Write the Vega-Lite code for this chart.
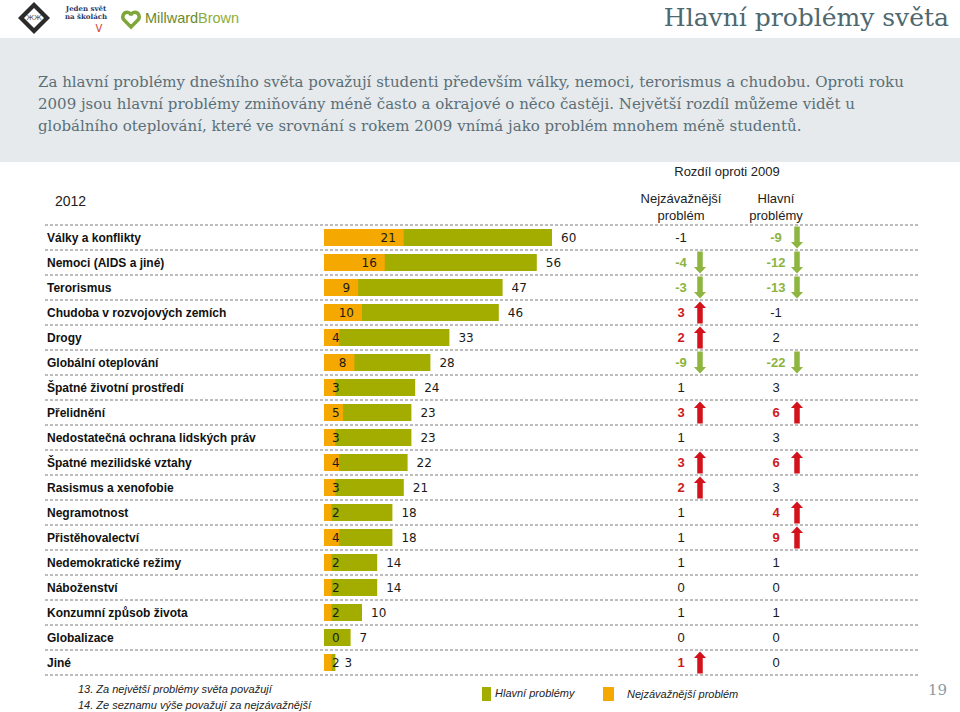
{
  "$schema": "https://vega.github.io/schema/vega-lite/v6.json",
  "width": 960,
  "height": 712,
  "autosize": {"type": "fit", "contains": "padding"},
  "padding": 0,
  "background": "white",
  "config": {"view": {"stroke": null}},
  "resolve": {"scale": {"x": "independent", "color": "independent", "shape": "independent"}},
  "datasets": {
    "one": [{}],
    "bars": [
      {"label": "Války a konflikty", "main": 60, "top": 21},
      {"label": "Nemoci (AIDS a jiné)", "main": 56, "top": 16},
      {"label": "Terorismus", "main": 47, "top": 9},
      {"label": "Chudoba v rozvojových zemích", "main": 46, "top": 10},
      {"label": "Drogy", "main": 33, "top": 4},
      {"label": "Globální oteplování", "main": 28, "top": 8},
      {"label": "Špatné životní prostředí", "main": 24, "top": 3},
      {"label": "Přelidnění", "main": 23, "top": 5},
      {"label": "Nedostatečná ochrana lidských práv", "main": 23, "top": 3},
      {"label": "Špatné mezilidské vztahy", "main": 22, "top": 4},
      {"label": "Rasismus a xenofobie", "main": 21, "top": 3},
      {"label": "Negramotnost", "main": 18, "top": 2},
      {"label": "Přistěhovalectví", "main": 18, "top": 4},
      {"label": "Nedemokratické režimy", "main": 14, "top": 2},
      {"label": "Náboženství", "main": 14, "top": 2},
      {"label": "Konzumní způsob života", "main": 10, "top": 2},
      {"label": "Globalizace", "main": 7, "top": 0},
      {"label": "Jiné", "main": 3, "top": 2}
    ],
    "changes": [
      {"label": "Války a konflikty", "col": "nz", "change": -1, "dir": "none"},
      {"label": "Války a konflikty", "col": "hp", "change": -9, "dir": "down"},
      {"label": "Nemoci (AIDS a jiné)", "col": "nz", "change": -4, "dir": "down"},
      {"label": "Nemoci (AIDS a jiné)", "col": "hp", "change": -12, "dir": "down"},
      {"label": "Terorismus", "col": "nz", "change": -3, "dir": "down"},
      {"label": "Terorismus", "col": "hp", "change": -13, "dir": "down"},
      {"label": "Chudoba v rozvojových zemích", "col": "nz", "change": 3, "dir": "up"},
      {"label": "Chudoba v rozvojových zemích", "col": "hp", "change": -1, "dir": "none"},
      {"label": "Drogy", "col": "nz", "change": 2, "dir": "up"},
      {"label": "Drogy", "col": "hp", "change": 2, "dir": "none"},
      {"label": "Globální oteplování", "col": "nz", "change": -9, "dir": "down"},
      {"label": "Globální oteplování", "col": "hp", "change": -22, "dir": "down"},
      {"label": "Špatné životní prostředí", "col": "nz", "change": 1, "dir": "none"},
      {"label": "Špatné životní prostředí", "col": "hp", "change": 3, "dir": "none"},
      {"label": "Přelidnění", "col": "nz", "change": 3, "dir": "up"},
      {"label": "Přelidnění", "col": "hp", "change": 6, "dir": "up"},
      {"label": "Nedostatečná ochrana lidských práv", "col": "nz", "change": 1, "dir": "none"},
      {"label": "Nedostatečná ochrana lidských práv", "col": "hp", "change": 3, "dir": "none"},
      {"label": "Špatné mezilidské vztahy", "col": "nz", "change": 3, "dir": "up"},
      {"label": "Špatné mezilidské vztahy", "col": "hp", "change": 6, "dir": "up"},
      {"label": "Rasismus a xenofobie", "col": "nz", "change": 2, "dir": "up"},
      {"label": "Rasismus a xenofobie", "col": "hp", "change": 3, "dir": "none"},
      {"label": "Negramotnost", "col": "nz", "change": 1, "dir": "none"},
      {"label": "Negramotnost", "col": "hp", "change": 4, "dir": "up"},
      {"label": "Přistěhovalectví", "col": "nz", "change": 1, "dir": "none"},
      {"label": "Přistěhovalectví", "col": "hp", "change": 9, "dir": "up"},
      {"label": "Nedemokratické režimy", "col": "nz", "change": 1, "dir": "none"},
      {"label": "Nedemokratické režimy", "col": "hp", "change": 1, "dir": "none"},
      {"label": "Náboženství", "col": "nz", "change": 0, "dir": "none"},
      {"label": "Náboženství", "col": "hp", "change": 0, "dir": "none"},
      {"label": "Konzumní způsob života", "col": "nz", "change": 1, "dir": "none"},
      {"label": "Konzumní způsob života", "col": "hp", "change": 1, "dir": "none"},
      {"label": "Globalizace", "col": "nz", "change": 0, "dir": "none"},
      {"label": "Globalizace", "col": "hp", "change": 0, "dir": "none"},
      {"label": "Jiné", "col": "nz", "change": 1, "dir": "up"},
      {"label": "Jiné", "col": "hp", "change": 0, "dir": "none"}
    ]
  },
  "layer": [
    {"data": {"name": "one"}, "mark": {"type": "rect", "fill": "#E6EAEC"},
     "encoding": {"x": {"value": 0}, "x2": {"value": 960}, "y": {"value": 38}, "y2": {"value": 162}}},
    {"data": {"name": "one"}, "mark": {"type": "text", "text": "Hlavní problémy světa", "font": "DejaVu Serif", "fontSize": 25, "color": "#4E686F", "align": "right", "baseline": "alphabetic"},
     "encoding": {"x": {"value": 949}, "y": {"value": 26}}},
    {"data": {"name": "one"}, "mark": {"type": "text", "text": ["Za hlavní problémy dnešního světa považují studenti především války, nemoci, terorismus a chudobu. Oproti roku", "2009 jsou hlavní problémy zmiňovány méně často a okrajové o něco častěji. Největší rozdíl můžeme vidět u", "globálního oteplování, které ve srovnání s rokem 2009 vnímá jako problém mnohem méně studentů."], "font": "DejaVu Serif", "fontSize": 15, "lineHeight": 22, "color": "#5B6F78", "align": "left", "baseline": "alphabetic"},
     "encoding": {"x": {"value": 38}, "y": {"value": 87}}},
    {"data": {"name": "one"}, "mark": {"type": "point", "shape": "diamond", "filled": true, "color": "#2B2B2B", "opacity": 1, "size": 1024},
     "encoding": {"x": {"value": 34}, "y": {"value": 18}}},
    {"data": {"name": "one"}, "mark": {"type": "point", "shape": "diamond", "filled": true, "color": "#FFFFFF", "opacity": 1, "size": 400},
     "encoding": {"x": {"value": 34}, "y": {"value": 18}}},
    {"data": {"name": "one"}, "mark": {"type": "text", "text": "ЖЖ", "font": "DejaVu Sans", "fontSize": 7, "color": "#555555", "align": "center", "baseline": "middle"},
     "encoding": {"x": {"value": 34}, "y": {"value": 18}}},
    {"data": {"name": "one"}, "mark": {"type": "text", "text": ["Jeden svět", "na školách"], "font": "DejaVu Serif", "fontWeight": "bold", "fontSize": 7, "lineHeight": 8, "color": "#1F3A6E", "align": "center", "baseline": "alphabetic"},
     "encoding": {"x": {"value": 86}, "y": {"value": 11}}},
    {"data": {"name": "one"}, "mark": {"type": "text", "text": "V", "font": "DejaVu Sans", "fontSize": 10, "color": "#D23A2E", "align": "center", "baseline": "middle"},
     "encoding": {"x": {"value": 99}, "y": {"value": 29}}},
    {"data": {"name": "one"}, "mark": {"type": "point", "shape": "M0,0.8 L-0.8,0 C-1.1,-0.3 -0.9,-0.9 -0.45,-0.9 C-0.2,-0.9 0,-0.7 0,-0.5 C0,-0.7 0.2,-0.9 0.45,-0.9 C0.9,-0.9 1.1,-0.3 0.8,0 Z", "filled": false, "stroke": "#7FA63A", "strokeWidth": 3.5, "opacity": 1, "size": 300},
     "encoding": {"x": {"value": 131}, "y": {"value": 20}}},
    {"data": {"name": "one"}, "mark": {"type": "text", "text": "Millward", "font": "Liberation Sans", "fontSize": 14.5, "color": "#6A8A2E", "align": "left", "baseline": "middle"},
     "encoding": {"x": {"value": 145}, "y": {"value": 19}}},
    {"data": {"name": "one"}, "mark": {"type": "text", "text": "Brown", "font": "Liberation Sans", "fontSize": 14.5, "color": "#8CAE3C", "align": "left", "baseline": "middle"},
     "encoding": {"x": {"value": 198}, "y": {"value": 19}}},
    {"data": {"name": "one"}, "mark": {"type": "text", "text": "2012", "font": "Liberation Sans Narrow, Liberation Sans, sans-serif", "fontSize": 14, "color": "#222222", "align": "left", "baseline": "middle"},
     "encoding": {"x": {"value": 55}, "y": {"value": 202}}},
    {"data": {"name": "one"}, "mark": {"type": "text", "text": "Rozdíl oproti 2009", "font": "Liberation Sans", "fontSize": 13, "color": "#222222", "align": "center", "baseline": "middle"},
     "encoding": {"x": {"value": 727}, "y": {"value": 172}}},
    {"data": {"name": "one"}, "mark": {"type": "text", "text": ["Nejzávažnější", "problém"], "font": "Liberation Sans", "fontSize": 13, "lineHeight": 17, "color": "#222222", "align": "center", "baseline": "alphabetic"},
     "encoding": {"x": {"value": 681}, "y": {"value": 203}}},
    {"data": {"name": "one"}, "mark": {"type": "text", "text": ["Hlavní", "problémy"], "font": "Liberation Sans", "fontSize": 13, "lineHeight": 17, "color": "#222222", "align": "center", "baseline": "alphabetic"},
     "encoding": {"x": {"value": 776}, "y": {"value": 203}}},
    {"data": {"name": "bars"}, "mark": {"type": "rule", "color": "#7A7A7A", "strokeWidth": 1, "strokeDash": [3, 2]},
     "encoding": {
       "y": {"field": "label", "type": "nominal", "bandPosition": 0, "axis": null,
             "scale": {"domain": ["Války a konflikty", "Nemoci (AIDS a jiné)", "Terorismus", "Chudoba v rozvojových zemích", "Drogy", "Globální oteplování", "Špatné životní prostředí", "Přelidnění", "Nedostatečná ochrana lidských práv", "Špatné mezilidské vztahy", "Rasismus a xenofobie", "Negramotnost", "Přistěhovalectví", "Nedemokratické režimy", "Náboženství", "Konzumní způsob života", "Globalizace", "Jiné"], "range": [225, 675], "paddingInner": 0, "paddingOuter": 0}},
       "x": {"value": 45}, "x2": {"value": 920}}},
    {"data": {"name": "bars"}, "transform": [{"filter": "datum.label === 'Jiné'"}],
     "mark": {"type": "rule", "color": "#7A7A7A", "strokeWidth": 1, "strokeDash": [3, 2]},
     "encoding": {
       "y": {"field": "label", "type": "nominal", "bandPosition": 1, "axis": null},
       "x": {"value": 45}, "x2": {"value": 920}}},
    {"data": {"name": "bars"}, "mark": {"type": "text", "font": "Liberation Sans", "fontWeight": "bold", "fontSize": 12, "color": "#111111", "align": "left", "baseline": "middle"},
     "encoding": {
       "y": {"field": "label", "type": "nominal", "axis": null},
       "x": {"value": 47},
       "text": {"field": "label", "type": "nominal"}}},
    {"data": {"name": "bars"}, "mark": {"type": "bar", "color": "#A2AD00", "size": 17},
     "encoding": {
       "y": {"field": "label", "type": "nominal", "axis": null},
       "x": {"field": "main", "type": "quantitative", "axis": null, "scale": {"domain": [0, 60], "range": [324, 552], "nice": false, "zero": true}}}},
    {"data": {"name": "bars"}, "mark": {"type": "bar", "color": "#F4A800", "size": 17},
     "encoding": {
       "y": {"field": "label", "type": "nominal", "axis": null},
       "x": {"field": "top", "type": "quantitative", "axis": null, "scale": {"domain": [0, 60], "range": [324, 552], "nice": false, "zero": true}}}},
    {"data": {"name": "bars"}, "transform": [{"filter": "datum.top >= 7"}],
     "mark": {"type": "text", "font": "DejaVu Sans", "fontSize": 12, "color": "#1A1A1A", "align": "right", "baseline": "middle", "dx": -8},
     "encoding": {
       "y": {"field": "label", "type": "nominal", "axis": null},
       "x": {"field": "top", "type": "quantitative", "axis": null, "scale": {"domain": [0, 60], "range": [324, 552], "nice": false, "zero": true}},
       "text": {"field": "top", "type": "nominal"}}},
    {"data": {"name": "bars"}, "transform": [{"filter": "datum.top < 7"}],
     "mark": {"type": "text", "font": "DejaVu Sans", "fontSize": 12, "color": "#1A1A1A", "align": "left", "baseline": "middle", "dx": 8},
     "encoding": {
       "y": {"field": "label", "type": "nominal", "axis": null},
       "x": {"datum": 0, "type": "quantitative", "axis": null, "scale": {"domain": [0, 60], "range": [324, 552], "nice": false, "zero": true}},
       "text": {"field": "top", "type": "nominal"}}},
    {"data": {"name": "bars"},
     "mark": {"type": "text", "font": "DejaVu Sans", "fontSize": 12, "color": "#1A1A1A", "align": "left", "baseline": "middle", "dx": 9},
     "encoding": {
       "y": {"field": "label", "type": "nominal", "axis": null},
       "x": {"field": "main", "type": "quantitative", "axis": null, "scale": {"domain": [0, 60], "range": [324, 552], "nice": false, "zero": true}},
       "text": {"field": "main", "type": "nominal"}}},
    {"data": {"name": "changes"}, "transform": [{"filter": "datum.dir !== 'none'"}],
     "mark": {"type": "text", "font": "Liberation Sans", "fontWeight": "bold", "fontSize": 13, "align": "center", "baseline": "middle"},
     "encoding": {
       "y": {"field": "label", "type": "nominal", "axis": null},
       "x": {"field": "col", "type": "nominal", "axis": null, "scale": {"type": "point", "domain": ["nz", "hp"], "range": [681, 776], "padding": 0}},
       "text": {"field": "change", "type": "nominal"},
       "color": {"field": "dir", "type": "nominal", "legend": null, "scale": {"domain": ["up", "down"], "range": ["#CC1A22", "#8DB33F"]}}}},
    {"data": {"name": "changes"}, "transform": [{"filter": "datum.dir === 'none'"}],
     "mark": {"type": "text", "font": "Liberation Sans", "fontSize": 13, "color": "#1A1A1A", "align": "center", "baseline": "middle"},
     "encoding": {
       "y": {"field": "label", "type": "nominal", "axis": null},
       "x": {"field": "col", "type": "nominal", "axis": null, "scale": {"type": "point", "domain": ["nz", "hp"], "range": [681, 776], "padding": 0}},
       "text": {"field": "change", "type": "nominal"}}},
    {"data": {"name": "changes"}, "transform": [{"filter": "datum.dir !== 'none'"}],
     "mark": {"type": "point", "filled": true, "opacity": 1, "size": 484, "strokeWidth": 0},
     "encoding": {
       "y": {"field": "label", "type": "nominal", "axis": null},
       "x": {"field": "col", "type": "nominal", "axis": null, "scale": {"type": "point", "domain": ["nz", "hp"], "range": [700, 797], "padding": 0}},
       "shape": {"field": "dir", "type": "nominal", "legend": null, "scale": {"domain": ["up", "down"], "range": ["M-0.25,1 L0.25,1 L0.25,-0.4 L0.55,-0.4 L0,-1 L-0.55,-0.4 L-0.25,-0.4 Z", "M-0.25,-1 L0.25,-1 L0.25,0.4 L0.55,0.4 L0,1 L-0.55,0.4 L-0.25,0.4 Z"]}},
       "color": {"field": "dir", "type": "nominal", "legend": null, "scale": {"domain": ["up", "down"], "range": ["#D3121C", "#8DB53F"]}}}},
    {"data": {"name": "one"}, "mark": {"type": "text", "text": ["13. Za největší problémy světa považují", "14. Ze seznamu výše považují za nejzávažnější"], "font": "Liberation Sans Narrow, Liberation Sans, sans-serif", "fontStyle": "italic", "fontSize": 11, "lineHeight": 16, "color": "#222222", "align": "left", "baseline": "alphabetic"},
     "encoding": {"x": {"value": 78}, "y": {"value": 693}}},
    {"data": {"name": "one"}, "mark": {"type": "rect", "fill": "#A2AD00"},
     "encoding": {"x": {"value": 482}, "x2": {"value": 491}, "y": {"value": 687}, "y2": {"value": 701}}},
    {"data": {"name": "one"}, "mark": {"type": "text", "text": "Hlavní problémy", "font": "Liberation Sans Narrow, Liberation Sans, sans-serif", "fontStyle": "italic", "fontSize": 11, "color": "#222222", "align": "left", "baseline": "middle"},
     "encoding": {"x": {"value": 495}, "y": {"value": 694}}},
    {"data": {"name": "one"}, "mark": {"type": "rect", "fill": "#F4A800"},
     "encoding": {"x": {"value": 603}, "x2": {"value": 614}, "y": {"value": 687}, "y2": {"value": 701}}},
    {"data": {"name": "one"}, "mark": {"type": "text", "text": "Nejzávažnější problém", "font": "Liberation Sans Narrow, Liberation Sans, sans-serif", "fontStyle": "italic", "fontSize": 11, "color": "#222222", "align": "left", "baseline": "middle"},
     "encoding": {"x": {"value": 627}, "y": {"value": 695}}},
    {"data": {"name": "one"}, "mark": {"type": "text", "text": "19", "font": "DejaVu Serif", "fontSize": 15, "color": "#8C9BA0", "align": "left", "baseline": "middle"},
     "encoding": {"x": {"value": 928}, "y": {"value": 690}}}
  ]
}
